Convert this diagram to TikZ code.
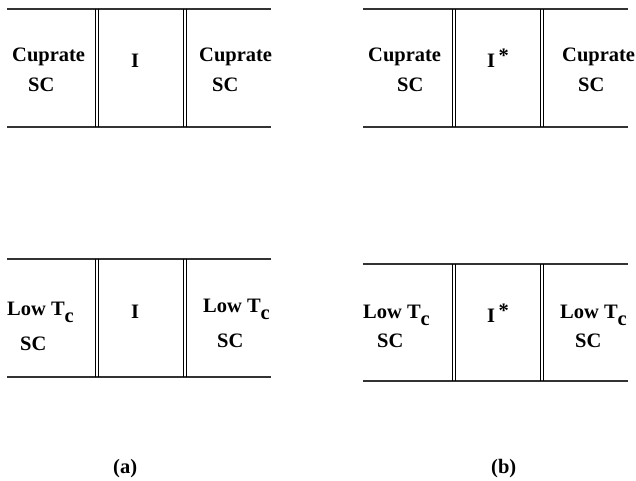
\documentclass[tikz,border=0pt]{standalone}
\usepackage{fontspec}
\setmainfont{Liberation Serif}
\newcommand{\Tc}{T\raisebox{-7pt}{c}}
\newcommand{\Istar}{I\,\raisebox{5pt}{*}}

\begin{document}
\begin{tikzpicture}[x=1pt, y=-1pt,
    layer/.style={line width=1.3pt, black!80},
    wall/.style={line width=1pt, black},
    lbl/.style={anchor=base west, inner sep=0pt, font=\fontsize{20.5}{24}\selectfont\bfseries}]
    \useasboundingbox (0,0) rectangle (636,481);
    % (a) top: cuprate / I / cuprate
    \draw [layer] (7,9) -- (271,9);
    \draw [layer] (7,127) -- (271,127);
    \draw [wall] (95,9) -- (95,127) (98.5,9) -- (98.5,127);
    \draw [wall] (183,9) -- (183,127) (186.5,9) -- (186.5,127);
    \node [lbl] (cupAl) at (12,62) {Cuprate};
    \node [lbl] (scAl) at (28,92) {SC};
    \node [lbl] (insA) at (131,68) {I};
    \node [lbl] (cupAr) at (199,62) {Cuprate};
    \node [lbl] (scAr) at (212,92) {SC};
    % (b) top: cuprate / I* / cuprate
    \draw [layer] (363,9) -- (628,9);
    \draw [layer] (363,127) -- (628,127);
    \draw [wall] (452,9) -- (452,127) (455.5,9) -- (455.5,127);
    \draw [wall] (540,9) -- (540,127) (543.5,9) -- (543.5,127);
    \node [lbl] (cupBl) at (368,62) {Cuprate};
    \node [lbl] (scBl) at (397,92) {SC};
    \node [lbl] (insB) at (487,68) {\Istar};
    \node [lbl] (cupBr) at (562,62) {Cuprate};
    \node [lbl] (scBr) at (578,92) {SC};
    % (a) bottom: low Tc / I / low Tc
    \draw [layer] (7,259) -- (271,259);
    \draw [layer] (7,377) -- (271,377);
    \draw [wall] (95,259) -- (95,377) (98.5,259) -- (98.5,377);
    \draw [wall] (183,259) -- (183,377) (186.5,259) -- (186.5,377);
    \node [lbl] (lowAl) at (7,315) {Low \Tc};
    \node [lbl] (scAl2) at (20,350) {SC};
    \node [lbl] (insA2) at (131,318) {I};
    \node [lbl] (lowAr) at (203,312) {Low \Tc};
    \node [lbl] (scAr2) at (217,347) {SC};
    % (b) bottom: low Tc / I* / low Tc
    \draw [layer] (363,264) -- (628,264);
    \draw [layer] (363,381) -- (628,381);
    \draw [wall] (452,264) -- (452,381) (455.5,264) -- (455.5,381);
    \draw [wall] (540,264) -- (540,381) (543.5,264) -- (543.5,381);
    \node [lbl] (lowBl) at (363,318) {Low \Tc};
    \node [lbl] (scBl2) at (377,347) {SC};
    \node [lbl] (insB2) at (487,322) {\Istar};
    \node [lbl] (lowBr) at (560,318) {Low \Tc};
    \node [lbl] (scBr2) at (575,347) {SC};
    % captions
    \node [lbl] (capA) at (113,473) {(a)};
    \node [lbl] (capB) at (491,473) {(b)};
\end{tikzpicture}
\end{document}
